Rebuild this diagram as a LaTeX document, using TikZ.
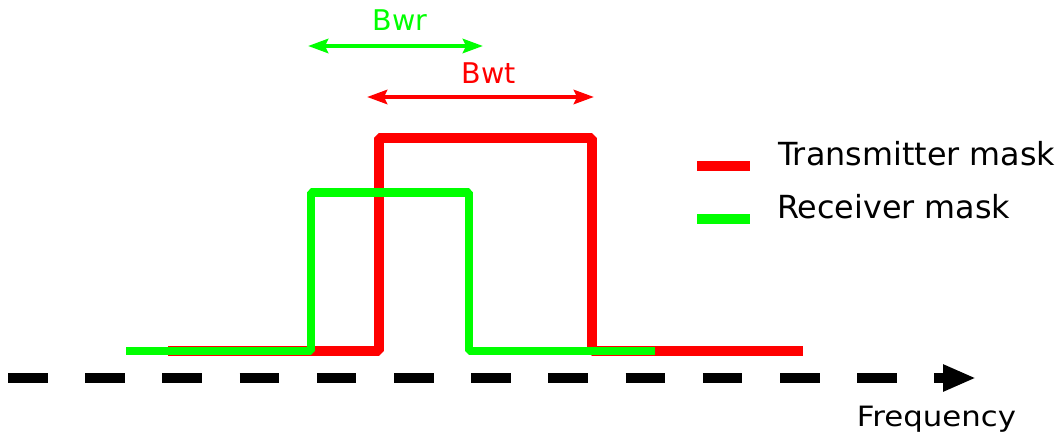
\documentclass[tikz,border=0pt]{standalone}
\usepackage{fontspec}
\setmainfont{DejaVu Sans}
\usetikzlibrary{arrows.meta}
\definecolor{mred}{RGB}{255,0,0}
\definecolor{mgreen}{RGB}{0,255,0}
\tikzset{
  txmask/.style={draw=mred,line width=10pt,line join=bevel,line cap=butt},
  rxmask/.style={draw=mgreen,line width=8.5pt,line join=bevel,line cap=butt},
  bwarrow/.style={line width=4.5pt,{Stealth[length=20pt,width=14pt,inset=3pt]}-{Stealth[length=20pt,width=14pt,inset=3pt]}},
  bwlabel/.style={inner sep=0pt,anchor=base,font=\fontsize{28.5}{33}\selectfont},
  legtext/.style={inner sep=0pt,anchor=base west,font=\fontsize{31.8}{36}\selectfont},
  legline/.style={line width=10pt,line cap=butt},
  axis/.style={line width=10pt,dash pattern=on 39.5pt off 37.7pt,-{Triangle[length=33pt,width=25pt]}}
}
\begin{document}
\begin{tikzpicture}[x=1pt,y=-1pt]
\useasboundingbox (0,0) rectangle (1062,436);
% transmitter mask
\coordinate (t0) at (168,351);
\coordinate (t1) at (379,351);
\coordinate (t2) at (379,138);
\coordinate (t3) at (592,138);
\coordinate (t4) at (592,351);
\coordinate (t5) at (803,351);
\draw[txmask] (t0) -- (t1) -- (t2) -- (t3) -- (t4) -- (t5);
% receiver mask
\coordinate (r0) at (126,351);
\coordinate (r1) at (311,351);
\coordinate (r2) at (311,192.5);
\coordinate (r3) at (469,192.5);
\coordinate (r4) at (469,351);
\coordinate (r5) at (655,351);
\draw[rxmask] (r0) -- (r1) -- (r2) -- (r3) -- (r4) -- (r5);
% bandwidth arrows
\coordinate (gl) at (308,46);
\coordinate (gr) at (483,46);
\draw[bwarrow,mgreen] (gl) -- (gr);
\node[bwlabel,text=mgreen] (bwr) at (400,31) {Bwr};
\coordinate (rl) at (367,97);
\coordinate (rr) at (594,97);
\draw[bwarrow,mred] (rl) -- (rr);
\node[bwlabel,text=mred] (bwt) at (488.5,83) {Bwt};
% legend
\coordinate (l1a) at (697,166);
\coordinate (l1b) at (750,166);
\draw[legline,mred] (l1a) -- (l1b);
\node[legtext] (ltx) at (778,165.5) {Transmitter mask};
\coordinate (l2a) at (697,219);
\coordinate (l2b) at (750,219);
\draw[legline,mgreen] (l2a) -- (l2b);
\node[legtext] (lrx) at (777,218.5) {Receiver mask};
% frequency axis
\coordinate (ax0) at (8,378);
\coordinate (ax1) at (976,378);
\draw[axis] (ax0) -- (ax1);
\node[inner sep=0pt,anchor=base,font=\fontsize{28}{33}\selectfont] (freq) at (936.5,426.5) {\scalebox{1.1}[1]{Frequency}};
\end{tikzpicture}
\end{document}
